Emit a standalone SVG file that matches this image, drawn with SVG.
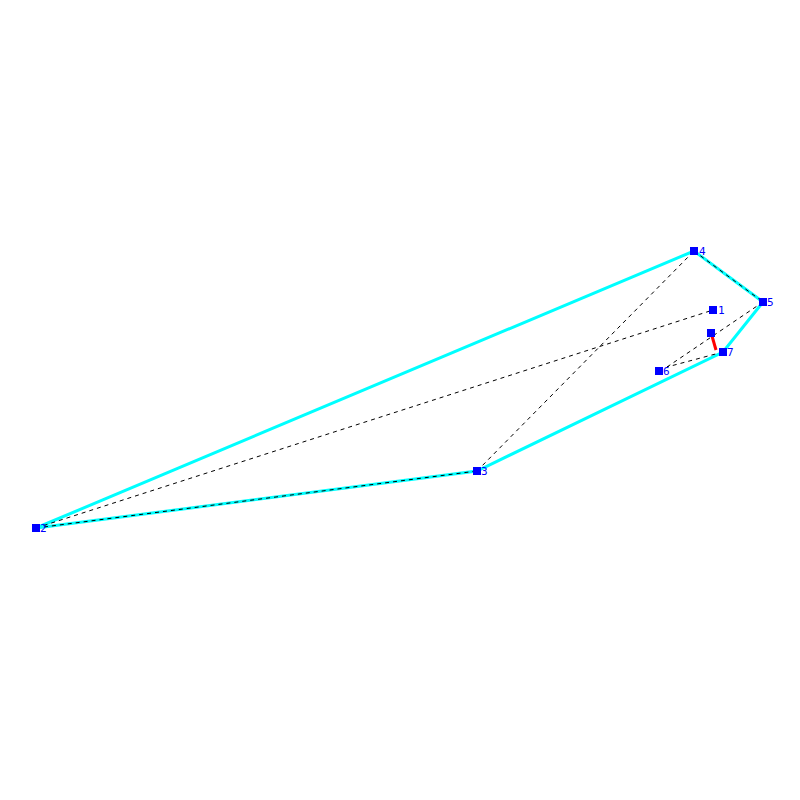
<svg xmlns="http://www.w3.org/2000/svg" width="800" height="800" viewBox="0 0 800 800">
<style>
.edge{stroke:#00ffff;stroke-width:3;fill:none}
.dash{stroke:#000;stroke-width:1;stroke-dasharray:4,4;fill:none}
.nd{fill:#0000ff}
.lb{fill:#0000ff;font-family:"DejaVu Sans Mono","Liberation Mono",monospace;font-size:11px}
</style>
<rect width="800" height="800" fill="#fff"/>
<g id="connectors">
<polygon class="edge" points="36,528 694,251 763,302 723,352 477,471"/>
<line class="dash" x1="36" y1="528" x2="713" y2="310"/>
<line class="dash" x1="36" y1="528" x2="477" y2="471"/>
<line class="dash" x1="477" y1="471" x2="694" y2="251"/>
<line class="dash" x1="694" y1="251" x2="763" y2="302"/>
<line class="dash" x1="763" y1="302" x2="667" y2="367"/>
<line class="dash" x1="723" y1="352" x2="667" y2="367"/>
<line stroke="#ff0000" stroke-width="3" x1="712" y1="336" x2="716" y2="350"/>
</g>
<g id="n1"><rect class="nd" x="709" y="306" width="8" height="8"/><text class="lb" x="718" y="314">1</text></g>
<g id="n2"><rect class="nd" x="32" y="524" width="8" height="8"/><text class="lb" x="40" y="532">2</text></g>
<g id="n3"><rect class="nd" x="473" y="467" width="8" height="8"/><text class="lb" x="481" y="475">3</text></g>
<g id="n4"><rect class="nd" x="690" y="247" width="8" height="8"/><text class="lb" x="699" y="255">4</text></g>
<g id="n5"><rect class="nd" x="759" y="298" width="8" height="8"/><text class="lb" x="767" y="306">5</text></g>
<g id="n6"><rect class="nd" x="655" y="367" width="8" height="8"/><text class="lb" x="663" y="375">6</text></g>
<g id="n7"><rect class="nd" x="719" y="348" width="8" height="8"/><text class="lb" x="727" y="356">7</text></g>
<g id="n8"><rect class="nd" x="707" y="329" width="8" height="8"/></g>
</svg>
